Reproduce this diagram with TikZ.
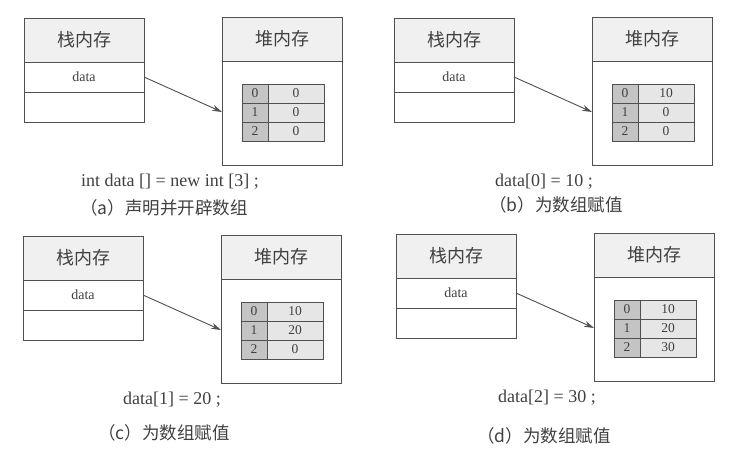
\documentclass[tikz,border=0pt]{standalone}
\usepackage{fontspec}
\setmainfont{Liberation Serif}
\newfontfamily\cjk{Noto Sans CJK SC}
\usetikzlibrary{arrows.meta,calc}
\definecolor{lnc}{HTML}{505050}
\definecolor{txc}{HTML}{404040}
\definecolor{hdrfill}{HTML}{F0F0F0}
\definecolor{idxfill}{HTML}{C4C4C4}
\definecolor{valfill}{HTML}{E6E6E6}
\tikzset{
  box/.style={draw=lnc, line width=0.9pt, inner sep=0pt, outer sep=0pt, text=txc, anchor=north west},
  hdr/.style={box, fill=hdrfill, minimum width=120pt, minimum height=44pt, font=\cjk\fontsize{18}{18}\selectfont},
  cell/.style={box, fill=white, minimum width=120pt, minimum height=30pt, font=\fontsize{14}{14}\selectfont},
  heapbody/.style={box, fill=white, minimum width=120pt, minimum height=104pt},
  idx/.style={box, fill=idxfill, minimum width=26pt, minimum height=19pt, font=\fontsize{13.5}{13.5}\selectfont},
  val/.style={box, fill=valfill, minimum width=56pt, minimum height=19pt, font=\fontsize{13.5}{13.5}\selectfont},
  ptr/.style={draw=lnc, line width=0.9pt, -{Stealth[length=10pt,width=6pt]}},
  codetext/.style={text=txc, inner sep=0pt, font=\fontsize{18}{18}\selectfont},
  captext/.style={text=txc, inner sep=0pt, font=\cjk\fontsize{17.5}{18}\selectfont},
}
\newcommand\mempanel[6]{%
  \begin{scope}[shift={(#2,#3)}]
    \node[hdr] (#1sh) at (0,0) {栈内存};
    \node[cell] (#1sd) at (#1sh.south west) {data};
    \node[cell] (#1se) at (#1sd.south west) {};
    \node[hdr] (#1hh) at (198,-1) {堆内存};
    \node[heapbody] (#1hb) at (#1hh.south west) {};
    \node[idx] (#1i0) at (218,66) {0};
    \node[val] (#1v0) at (#1i0.north east) {#4};
    \node[idx] (#1i1) at (#1i0.south west) {1};
    \node[val] (#1v1) at (#1i1.north east) {#5};
    \node[idx] (#1i2) at (#1i1.south west) {2};
    \node[val] (#1v2) at (#1i2.north east) {#6};
    \coordinate (#1in) at ($(#1hb.north west)+(0,51)$);
    \draw[ptr] (#1sd.east) -- (#1in);
  \end{scope}}
\begin{document}
\begin{tikzpicture}[x=1pt,y=-1pt]
  \fill[white] (0,0) rectangle (738,455);
  \useasboundingbox (0,0) rectangle (738,455);
  \mempanel{a}{24}{18}{0}{0}{0}
  \mempanel{b}{394}{18}{10}{0}{0}
  \mempanel{c}{23}{236}{10}{20}{0}
  \mempanel{d}{396}{234}{10}{20}{30}
  \node[codetext] (acode) at (170,182) {int data [] = new int [3] ;};
  \node[captext] (acap) at (164,208) {（a）声明并开辟数组};
  \node[codetext] (bcode) at (544,182) {data[0] = 10 ;};
  \node[captext] (bcap) at (556,205) {（b）为数组赋值};
  \node[codetext] (ccode) at (172,400) {data[1] = 20 ;};
  \node[captext] (ccap) at (164,433) {（c）为数组赋值};
  \node[codetext] (dcode) at (547,398) {data[2] = 30 ;};
  \node[captext] (dcap) at (544,436) {（d）为数组赋值};
\end{tikzpicture}
\end{document}
